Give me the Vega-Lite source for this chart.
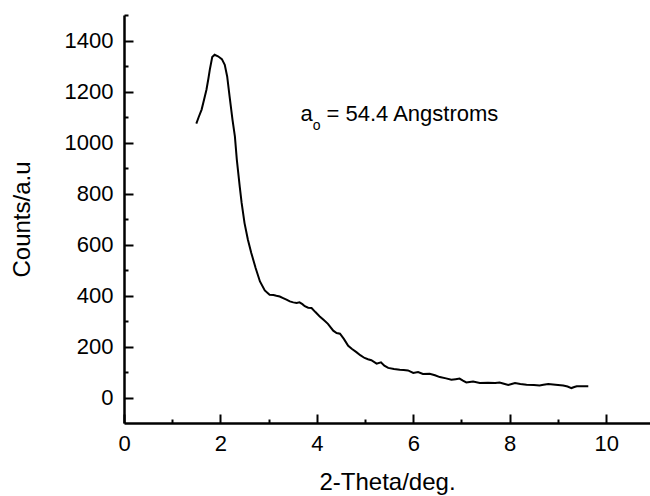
{
  "$schema": "https://vega.github.io/schema/vega-lite/v6.json",
  "autosize": {"type": "none"},
  "padding": {"left": 124, "top": 15, "right": 0, "bottom": 73},
  "width": 526,
  "height": 408,
  "background": "white",
  "config": {
    "view": {"stroke": null},
    "font": "Liberation Sans",
    "axis": {"grid": false, "domainColor": "black", "domainWidth": 2.5, "tickColor": "black", "tickWidth": 2, "labelColor": "black", "titleColor": "black", "labelFont": "Liberation Sans", "titleFont": "Liberation Sans", "labelFontSize": 22, "titleFontSize": 24, "titleFontWeight": "normal", "labelFlush": false, "format": "d"}
  },
  "datasets": {
    "curve": [
      {"x":1.50,"y":1074},{"x":1.55,"y":1100},{"x":1.61,"y":1129},{"x":1.66,"y":1168},{"x":1.71,"y":1207},{"x":1.75,"y":1250},{"x":1.78,"y":1286},{"x":1.83,"y":1335},{"x":1.88,"y":1344},{"x":1.95,"y":1338},{"x":2.03,"y":1327},{"x":2.09,"y":1305},{"x":2.14,"y":1259},{"x":2.19,"y":1181},{"x":2.25,"y":1090},{"x":2.30,"y":1024},{"x":2.34,"y":933},{"x":2.40,"y":828},{"x":2.44,"y":763},{"x":2.50,"y":684},{"x":2.57,"y":619},{"x":2.64,"y":567},{"x":2.73,"y":508},{"x":2.82,"y":455},{"x":2.92,"y":420},{"x":3.02,"y":403},{"x":3.10,"y":402},{"x":3.16,"y":399},{"x":3.23,"y":396},{"x":3.30,"y":390},{"x":3.37,"y":384},{"x":3.44,"y":377},{"x":3.51,"y":373},{"x":3.58,"y":371},{"x":3.64,"y":373},{"x":3.70,"y":366},{"x":3.75,"y":358},{"x":3.82,"y":352},{"x":3.89,"y":351},{"x":3.97,"y":335},{"x":4.06,"y":318},{"x":4.15,"y":303},{"x":4.23,"y":289},{"x":4.34,"y":262},{"x":4.41,"y":253},{"x":4.48,"y":250},{"x":4.56,"y":230},{"x":4.65,"y":203},{"x":4.73,"y":190},{"x":4.82,"y":178},{"x":4.90,"y":166},{"x":4.99,"y":155},{"x":5.06,"y":150},{"x":5.13,"y":146},{"x":5.24,"y":133},{"x":5.33,"y":138},{"x":5.40,"y":125},{"x":5.48,"y":116},{"x":5.60,"y":112},{"x":5.72,"y":109},{"x":5.80,"y":108},{"x":5.89,"y":106},{"x":6.00,"y":96},{"x":6.10,"y":100},{"x":6.20,"y":92},{"x":6.34,"y":93},{"x":6.45,"y":87},{"x":6.55,"y":80},{"x":6.68,"y":75},{"x":6.79,"y":70},{"x":6.88,"y":72},{"x":6.96,"y":74},{"x":7.03,"y":66},{"x":7.10,"y":59},{"x":7.17,"y":61},{"x":7.24,"y":63},{"x":7.38,"y":57},{"x":7.55,"y":58},{"x":7.70,"y":57},{"x":7.79,"y":59},{"x":7.88,"y":54},{"x":7.97,"y":49},{"x":8.04,"y":53},{"x":8.11,"y":57},{"x":8.22,"y":53},{"x":8.35,"y":50},{"x":8.50,"y":49},{"x":8.62,"y":47},{"x":8.70,"y":50},{"x":8.80,"y":53},{"x":8.95,"y":50},{"x":9.11,"y":47},{"x":9.20,"y":43},{"x":9.28,"y":37},{"x":9.34,"y":41},{"x":9.39,"y":44},{"x":9.50,"y":44},{"x":9.63,"y":44}
    ]
  },
  "resolve": {"axis": {"x": "independent", "y": "independent"}},
  "layer": [
    {
      "data": {"name": "curve"},
      "mark": {"type": "line", "opacity": 0},
      "encoding": {
        "x": {"field": "x", "type": "quantitative", "scale": {"domain": [0, 10.91], "nice": false, "zero": false},
          "axis": {"orient": "bottom", "title": null, "labels": false, "domain": false, "values": [1,3,5,7,9], "tickSize": -4}},
        "y": {"field": "y", "type": "quantitative", "scale": {"domain": [-100, 1500], "nice": false, "zero": false},
          "axis": {"orient": "left", "title": null, "labels": false, "domain": false, "values": [100,300,500,700,900,1100,1300,1500], "tickSize": -4}}
      }
    },
    {
      "data": {"name": "curve"},
      "mark": {"type": "line", "color": "black", "strokeWidth": 2, "interpolate": "linear"},
      "encoding": {
        "x": {"field": "x", "type": "quantitative",
          "axis": {"orient": "bottom", "title": "2-Theta/deg.", "values": [0,2,4,6,8,10], "tickSize": -9, "labelPadding": 19, "titlePadding": 16}},
        "y": {"field": "y", "type": "quantitative",
          "axis": {"orient": "left", "title": "Counts/a.u", "values": [0,200,400,600,800,1000,1200,1400], "tickSize": -9, "labelPadding": 20, "titlePadding": 30}}
      }
    },
    {
      "data": {"values": [{"x": 3.66, "y": 1083, "label": "a"}]},
      "mark": {"type": "text", "align": "left", "baseline": "alphabetic", "fontSize": 22, "font": "Liberation Sans", "color": "black"},
      "encoding": {"x": {"field": "x", "type": "quantitative", "axis": null}, "y": {"field": "y", "type": "quantitative", "axis": null}, "text": {"field": "label"}}
    },
    {
      "data": {"values": [{"x": 3.915, "y": 1050, "label": "o"}]},
      "mark": {"type": "text", "align": "left", "baseline": "alphabetic", "fontSize": 14, "font": "Liberation Sans", "color": "black"},
      "encoding": {"x": {"field": "x", "type": "quantitative", "axis": null}, "y": {"field": "y", "type": "quantitative", "axis": null}, "text": {"field": "label"}}
    },
    {
      "data": {"values": [{"x": 4.2, "y": 1083, "label": "= 54.4 Angstroms"}]},
      "mark": {"type": "text", "align": "left", "baseline": "alphabetic", "fontSize": 22, "font": "Liberation Sans", "color": "black"},
      "encoding": {"x": {"field": "x", "type": "quantitative", "axis": null}, "y": {"field": "y", "type": "quantitative", "axis": null}, "text": {"field": "label"}}
    }
  ]
}
